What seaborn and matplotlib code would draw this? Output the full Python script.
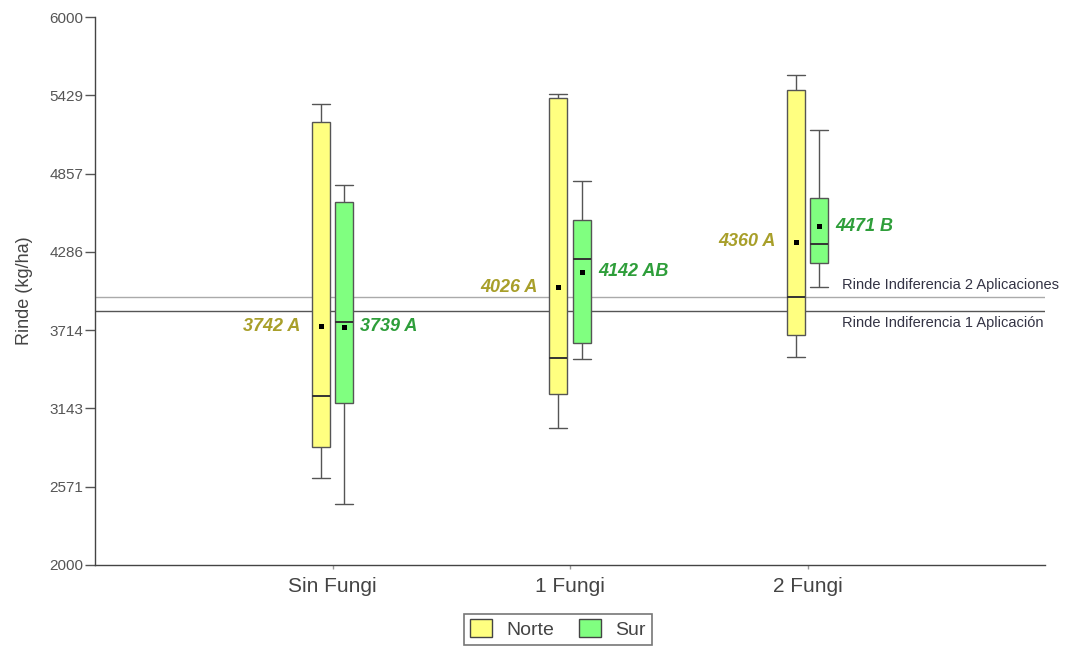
import numpy as np
import pandas as pd
import matplotlib
matplotlib.use("Agg")
import matplotlib.pyplot as plt
from matplotlib.patches import Patch
import seaborn as sns

# Treatments and zones
tratamientos = ["Sin Fungi", "1 Fungi", "2 Fungi"]
zonas = ["Norte", "Sur"]

# Five-number summaries (kg/ha): min, Q1, median, Q3, max
norte_min = [2633, 2998, 3518]
norte_q1 = [2859, 3246, 3676]
norte_med = [3234, 3513, 3954]
norte_q3 = [5231, 5406, 5467]
norte_max = [5365, 5438, 5579]

sur_min = [2443, 3501, 4027]
sur_q1 = [3185, 3623, 4202]
sur_med = [3771, 4231, 4343]
sur_q3 = [4652, 4518, 4681]
sur_max = [4774, 4803, 5173]

# Mean yields and significance letters
norte_media = [3742, 4026, 4360]
sur_media = [3739, 4142, 4471]
norte_letras = ["A", "A", "A"]
sur_letras = ["A", "AB", "B"]

# Indifference yields
rinde_indif_1 = 3856
rinde_indif_2 = 3958

sns.set_theme(style="white")
plt.rcParams["font.family"] = ["Liberation Sans", "DejaVu Sans"]

rows = []
for i, t in enumerate(tratamientos):
    for v in (norte_min[i], norte_q1[i], norte_med[i], norte_q3[i], norte_max[i]):
        rows.append((t, "Norte", v))
    for v in (sur_min[i], sur_q1[i], sur_med[i], sur_q3[i], sur_max[i]):
        rows.append((t, "Sur", v))
df = pd.DataFrame(rows, columns=["trat", "zona", "rinde"])

medias = pd.DataFrame(
    [(t, "Norte", m) for t, m in zip(tratamientos, norte_media)]
    + [(t, "Sur", m) for t, m in zip(tratamientos, sur_media)],
    columns=["trat", "zona", "rinde"],
)

colores = {"Norte": "#FFFF80", "Sur": "#80FF80"}
group_w = 0.2
gap = 0.24
box_w = group_w / 2 * (1 - gap)

fig = plt.figure(figsize=(10.69, 6.5), dpi=100)
ax = fig.add_axes([0.0889, 0.1308, 0.8887, 0.843])

sns.boxplot(
    data=df, x="trat", y="rinde", hue="zona",
    order=tratamientos, hue_order=zonas, palette=colores,
    width=group_w, gap=gap, whis=(0, 100), saturation=1,
    linecolor="#555555", linewidth=1.0,
    medianprops=dict(color="#333333", linewidth=1.4),
    capwidths=box_w, legend=False, ax=ax,
)

sns.pointplot(
    data=medias, x="trat", y="rinde", hue="zona",
    order=tratamientos, hue_order=zonas,
    palette={"Norte": "black", "Sur": "black"},
    dodge=group_w / 2, linestyle="none", marker="s", markersize=3.6,
    markeredgewidth=0, errorbar=None, legend=False, ax=ax,
)

# Indifference reference lines
ax.axhline(rinde_indif_2, color="#aaaaaa", lw=1.0, zorder=0.5)
ax.axhline(rinde_indif_1, color="#555555", lw=1.0, zorder=0.5)
ax.text(2.145, rinde_indif_2 + 35, "Rinde Indiferencia 2 Aplicaciones",
        fontsize=10.5, color="#333344", va="bottom", ha="left")
ax.text(2.145, rinde_indif_1 - 35, "Rinde Indiferencia 1 Aplicación",
        fontsize=10.5, color="#333344", va="top", ha="left")

# Mean labels
off = group_w / 4
for i in range(len(tratamientos)):
    ax.annotate(f"{norte_media[i]} {norte_letras[i]}", xy=(i - off, norte_media[i]),
                xytext=(-20, 0), textcoords="offset pixels", ha="right", va="center",
                fontsize=13, fontstyle="italic", fontweight="bold", color="#a89f2a")
    ax.annotate(f"{sur_media[i]} {sur_letras[i]}", xy=(i + off, sur_media[i]),
                xytext=(16, 0), textcoords="offset pixels", ha="left", va="center",
                fontsize=13, fontstyle="italic", fontweight="bold", color="#2e9e3a")

yt = np.linspace(2000, 6000, 8)
ax.set_ylim(2000, 6000)
ax.set_yticks(yt)
ax.set_yticklabels([f"{v:.0f}" for v in yt])
ax.set_xlim(-1, 3)
ax.set_xlabel("")
ax.set_ylabel("Rinde (kg/ha)", fontsize=13, color="#444444", labelpad=12)

for s in ("top", "right"):
    ax.spines[s].set_visible(False)
for s in ("left", "bottom"):
    ax.spines[s].set_color("#444444")
    ax.spines[s].set_linewidth(1.0)

ax.tick_params(axis="y", left=True, length=7, width=1, color="#555555",
               labelsize=11, labelcolor="#555555", pad=1.5)
ax.tick_params(axis="x", bottom=True, length=3, width=1, color="#999999",
               labelsize=15, labelcolor="#444444", pad=6)

handles = [Patch(facecolor=colores[z], edgecolor="#444444", label=z) for z in zonas]
leg = fig.legend(handles=handles, loc="center", bbox_to_anchor=(0.522, 0.032), ncol=2,
                 frameon=True, fancybox=False, fontsize=14, handlelength=1.1,
                 handleheight=1.05, columnspacing=1.3, handletextpad=0.75, borderpad=0.3)
leg.get_frame().set_edgecolor("#555555")
leg.get_frame().set_linewidth(1.2)
for t in leg.get_texts():
    t.set_color("#444444")

fig.savefig("out.png", dpi=100, facecolor="white")
